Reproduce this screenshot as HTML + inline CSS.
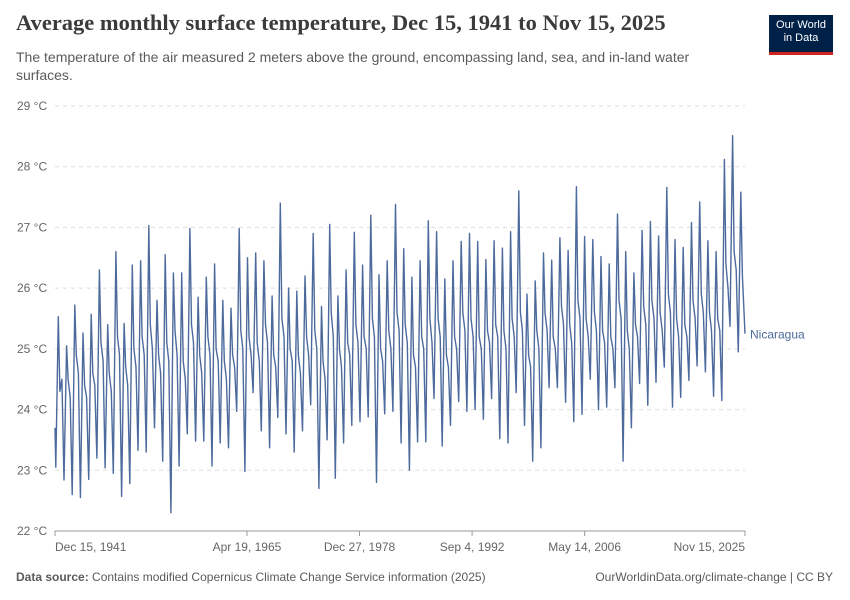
<!DOCTYPE html>
<html><head><meta charset="utf-8"><style>
body{margin:0;background:#fff;width:850px;height:600px;overflow:hidden;font-family:"Liberation Sans",sans-serif;position:relative}
.t{position:absolute;left:16px;top:10px;font-family:"Liberation Serif",serif;font-size:22.5px;color:#3b3b3b;margin:0;font-weight:bold}
.s{position:absolute;left:16px;top:48px;width:730px;font-size:14px;line-height:18px;color:#5b5b5b;margin:0}
.logo{position:absolute;left:769px;top:15px;width:64px;height:37px;background:#002147;color:#fff;font-size:11px;line-height:13px;text-align:center;padding-top:4px;box-sizing:border-box}
.logo:after{content:"";position:absolute;left:0;right:0;bottom:-3px;height:3px;background:#ce261e}
.f{position:absolute;top:570px;font-size:12px;color:#5b5b5b}
</style></head><body>
<h1 class="t">Average monthly surface temperature, Dec 15, 1941 to Nov 15, 2025</h1>
<p class="s">The temperature of the air measured 2 meters above the ground, encompassing land, sea, and in-land water surfaces.</p>
<div class="logo">Our World<br>in Data</div>
<svg id="c" width="850" height="600" style="position:absolute;left:0;top:0"></svg>
<div class="f" style="left:16px"><b>Data source:</b> Contains modified Copernicus Climate Change Service information (2025)</div>
<div class="f" style="right:17px">OurWorldinData.org/climate-change | CC BY</div>
<script>
const yTicks=[22,23,24,25,26,27,28,29];
const xTickLabels=["Dec 15, 1941","Apr 19, 1965","Dec 27, 1978","Sep 4, 1992","May 14, 2006","Nov 15, 2025"];
const xTickYears=[1941.955,1965.3,1978.99,1992.68,2006.37,2025.87];
const startYear=1942;
const janVals=[23.05,22.84,22.6,22.55,22.85,23.2,23.04,22.95,22.57,22.78,23.33,23.3,23.7,23.15,22.3,23.07,23.6,23.48,23.48,23.07,23.45,23.37,23.97,22.98,24.28,23.65,23.37,23.87,23.6,
23.3,23.65,24.08,22.7,23.5,22.87,23.45,23.74,23.8,23.88,22.8,23.93,23.97,23.45,23.0,23.47,23.47,24.18,23.4,23.74,24.13,23.97,24.0,23.84,24.18,23.52,23.45,
24.28,23.74,23.15,23.37,24.36,24.36,24.12,23.8,23.92,24.5,24.0,24.04,24.36,23.15,23.7,24.43,24.07,24.45,24.7,24.04,24.2,24.48,24.72,24.62,24.22,24.15,25.37,24.95];
const mayVals=[25.53,25.05,25.72,25.26,25.57,26.3,25.4,26.6,25.42,26.38,26.45,27.03,25.8,26.55,26.25,26.25,26.98,25.85,26.18,26.4,25.8,25.67,26.98,26.5,26.58,26.45,25.87,27.4,26.0,
25.95,26.2,26.9,25.7,27.05,25.87,26.3,26.92,26.38,27.2,26.22,26.45,27.38,26.65,26.18,26.45,27.11,26.93,26.15,26.45,26.77,26.9,26.77,26.47,26.78,26.66,26.93,
27.6,25.9,26.12,26.58,26.46,26.83,26.62,27.67,26.85,26.8,26.52,26.4,27.22,26.6,26.25,26.95,27.1,26.86,27.66,26.8,26.67,27.08,27.42,26.78,26.6,28.12,28.51,27.58];
const julVals=[24.3,24.5,24.9,24.4,24.6,25.1,24.6,25.2,24.7,25.0,25.2,25.4,24.9,25.1,25.3,24.8,25.4,24.9,25.2,25.0,24.8,24.9,25.3,25.2,25.1,25.4,24.9,25.5,25.0,
24.9,25.2,25.3,24.8,25.6,25.0,25.1,25.4,25.2,25.5,25.0,25.3,25.6,25.4,24.9,25.2,25.5,25.5,24.9,25.2,25.6,25.5,25.2,25.3,25.4,25.3,25.5,
25.6,24.9,25.3,25.6,25.2,25.7,25.4,25.8,25.5,25.6,25.3,25.2,25.8,25.3,25.4,25.7,25.8,25.6,25.9,25.5,25.4,25.8,25.9,25.6,25.5,26.4,26.6,26.2];
const octVals=[24.5,24.2,24.6,24.2,24.4,24.8,24.3,24.9,24.4,24.7,24.9,25.0,24.6,24.8,24.9,24.5,25.1,24.6,24.9,24.8,24.5,24.7,25.0,24.9,24.8,25.1,24.7,25.2,24.8,
24.6,24.9,25.0,24.5,25.2,24.7,24.9,25.1,25.0,25.2,24.8,25.0,25.3,25.1,24.7,25.0,25.1,25.2,24.7,25.0,25.3,25.2,25.0,25.1,25.2,25.0,25.2,
25.3,24.7,25.0,25.3,25.0,25.4,25.1,25.5,25.2,25.3,25.1,25.0,25.5,25.0,25.2,25.4,25.5,25.3,25.6,25.2,25.2,25.5,25.6,25.3,25.3,26.0,26.3];
const startVal=23.7, endVal=25.25;
const X0=55,X1=745,Y0=531,Y1=106;
const xs=y=>X0+(y-1941.955)/(2025.87-1941.955)*(X1-X0);
const ys=v=>Y0-(v-22)/(29-22)*(Y0-Y1);
const svg=document.getElementById('c');const NS='http://www.w3.org/2000/svg';
function mk(t,a){const e=document.createElementNS(NS,t);for(const k in a)e.setAttribute(k,a[k]);svg.appendChild(e);return e;}
yTicks.forEach(v=>{
 if(v>22){const g=mk('line',{x1:X0,x2:X1,y1:ys(v),y2:ys(v),stroke:'#ddd','stroke-dasharray':'4,4'});
 
 }
 const t=mk('text',{x:17,y:ys(v)+4,'font-size':12,fill:'#666'});t.textContent=v+' °C';
 
 
});
const ax=mk('line',{x1:X0,x2:X1,y1:Y0,y2:Y0,stroke:'#999'});


xTickLabels.forEach((l,i)=>{
 const x=xs(xTickYears[i]);
 const tk=mk('line',{x1:x,x2:x,y1:Y0,y2:Y0+5,stroke:'#999'});
 
 
 const anc=i==0?'start':(i==xTickLabels.length-1?'end':'middle');
 const t=mk('text',{x:x,y:Y0+20,'font-size':12,fill:'#666','text-anchor':anc});t.textContent=l;
 
 
});
const pts=[[1941.955,startVal]];
for(let i=0;i<janVals.length;i++){const yr=startYear+i;
 pts.push([yr+0.05,janVals[i]]);
 if(i<mayVals.length)pts.push([yr+0.36,mayVals[i]]);
 if(i<julVals.length)pts.push([yr+0.55,julVals[i]]);
 if(i<octVals.length&&yr+0.8<2025.87)pts.push([yr+0.8,octVals[i]]);
}
pts.push([2025.87,endVal]);
const p=mk('path',{d:pts.map((q,i)=>(i?'L':'M')+xs(q[0]).toFixed(1)+','+ys(q[1]).toFixed(1)).join(''),fill:'none',stroke:'#4c6a9c','stroke-width':1.4,'stroke-linejoin':'round'});


const lb=mk('text',{x:750,y:ys(endVal)+5,'font-size':12,fill:'#4c6a9c'});lb.textContent='Nicaragua';


</script>
</body></html>
